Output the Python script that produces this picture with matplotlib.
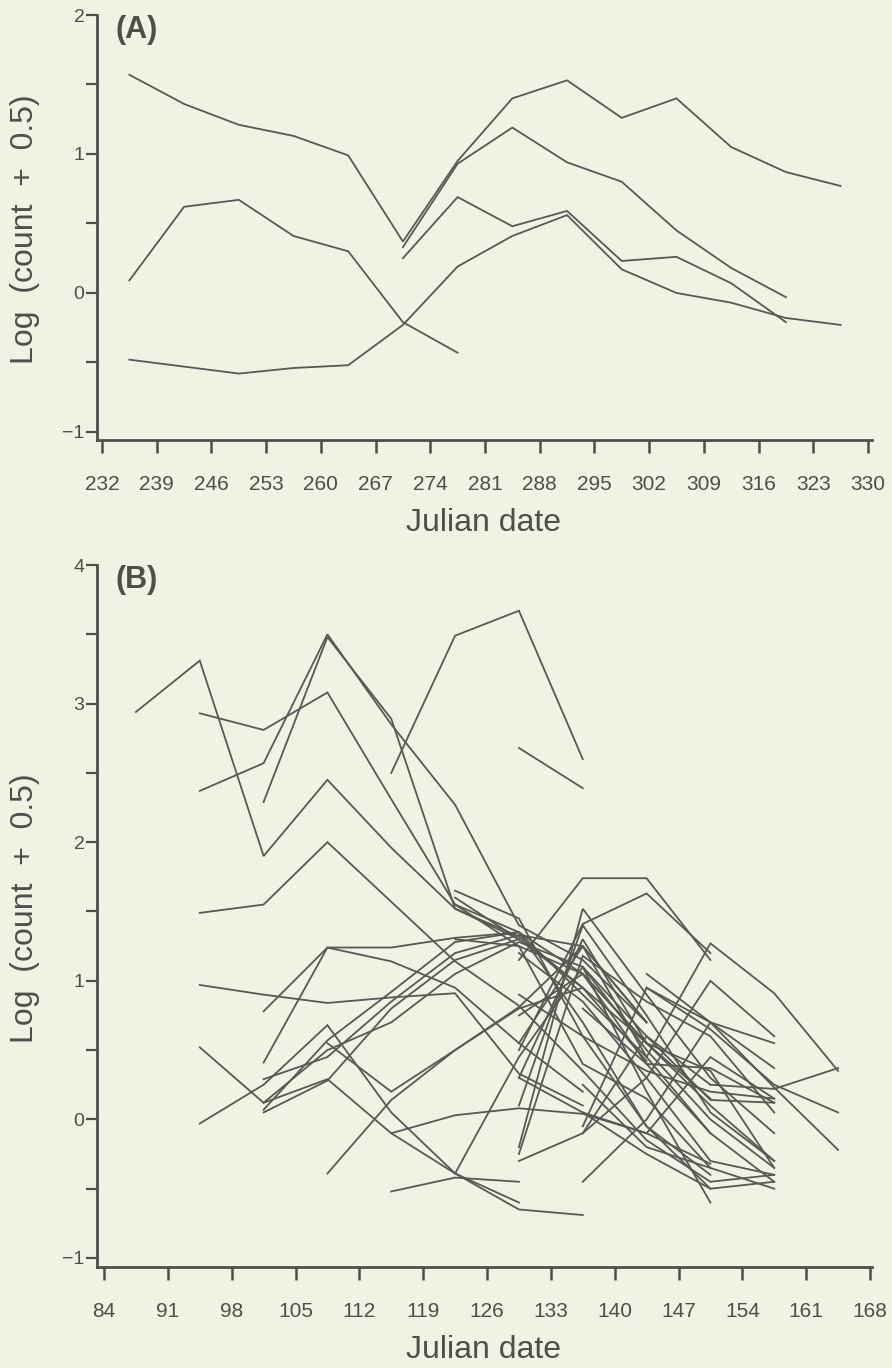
import matplotlib
matplotlib.use("Agg")
import matplotlib.pyplot as plt
import numpy as np

# sampling dates (Julian day) for each survey year
days_a = [235.5, 242.5, 249.5, 256.5, 263.5, 270.5, 277.5,
          284.5, 291.5, 298.5, 305.5, 312.5, 319.5, 326.5]
days_b = [87.5, 94.5, 101.5, 108.5, 115.5, 122.5,
          129.5, 136.5, 143.5, 150.5, 157.5, 164.5]

# log(count + 0.5) per site: (index of first sampling date, values)
sites_a = [
    (0, [1.57, 1.36, 1.21, 1.13, 0.99, 0.37, 0.95, 1.40, 1.53, 1.26, 1.40, 1.05, 0.87, 0.77]),
    (0, [0.09, 0.62, 0.67, 0.41, 0.30, -0.21, -0.43]),
    (0, [-0.48, -0.53, -0.58, -0.54, -0.52, -0.23, 0.19, 0.41, 0.56, 0.17, 0.00, -0.07, -0.18, -0.23]),
    (5, [0.33, 0.93, 1.19, 0.94, 0.80, 0.45, 0.18, -0.03]),
    (5, [0.25, 0.69, 0.48, 0.59, 0.23, 0.26, 0.07, -0.21]),
]

sites_b = [
    (0, [2.94, 3.31, 1.90, 2.45, 1.96, 1.52, 1.30]),
    (1, [2.93, 2.81, 3.08, 2.31, 1.55, 1.25, 1.05, 0.55]),
    (1, [2.37, 2.57, 3.50, 2.85, 2.27, 1.40, 1.15, 0.70]),
    (2, [2.29, 3.48, 2.89, 1.52, 1.32, 0.95, 0.42]),
    (1, [1.49, 1.55, 2.00, 1.57, 1.14, 0.82, 0.35]),
    (4, [2.50, 3.49, 3.67, 2.60]),
    (6, [2.68, 2.39]),
    (1, [0.97, 0.90, 0.84, 0.88, 0.91, 0.33, 0.10]),
    (1, [0.52, 0.12, 0.29, -0.10, -0.39, -0.65, -0.69]),
    (1, [-0.03, 0.25, 0.68, 0.05, -0.39, -0.60]),
    (2, [0.78, 1.24, 1.24, 1.31, 1.35, 0.90, 0.45]),
    (2, [0.41, 1.24, 1.14, 0.95, 0.55, 0.20]),
    (2, [0.29, 0.45, 0.85, 1.20, 1.33, 1.25, 0.70]),
    (2, [0.07, 0.57, 0.92, 1.28, 1.35, 1.05, 0.55, 0.15]),
    (2, [0.05, 0.28, 0.80, 1.15, 1.30]),
    (2, [0.12, 0.50, 0.70, 1.05, 1.28, 1.10, 0.60]),
    (3, [0.55, 0.20, 0.50, 0.80, 0.95]),
    (3, [-0.39, 0.14, 0.50, 0.81, 1.25, 0.70]),
    (4, [-0.10, 0.03, 0.08, 0.04, -0.10, -0.32]),
    (4, [-0.52, -0.42, -0.45]),
    (5, [-0.39, 0.45, 1.10, 0.50, 0.00, -0.35]),
    (6, [1.15, 1.74, 1.74, 1.15]),
    (6, [0.50, 1.41, 1.63, 1.20]),
    (8, [0.45, 1.27, 0.91, 0.35]),
    (9, [0.25, 0.22, 0.37]),
    (8, [1.05, 0.70, 0.23, -0.22]),
    (8, [0.95, 0.70, 0.37]),
    (8, [0.60, 0.14, 0.12]),
    (7, [0.80, 0.40, 0.37, 0.12]),
    (6, [-0.20, 1.52, 0.90, 0.30, -0.10]),
    (6, [0.10, 1.40, 0.75, 0.05, -0.30]),
    (6, [0.30, 1.30, 0.55, 0.35, -0.35]),
    (6, [-0.25, 1.18, 0.85, 0.60, 0.05]),
    (6, [0.55, 1.25, 0.45, -0.10, -0.45]),
    (5, [1.30, 1.25, 0.40, 0.15, -0.35]),
    (5, [1.55, 1.35, 0.70, -0.05, -0.40]),
    (5, [1.60, 1.30, 0.95, 0.55, 0.10, -0.30]),
    (5, [1.65, 1.45, 0.60, 0.35, 0.20, 0.15]),
    (6, [-0.30, -0.10, 0.30, 1.00, 0.60]),
    (7, [-0.10, 0.60, 0.25]),
    (7, [0.05, -0.10, 0.45, 0.15]),
    (7, [0.35, -0.15, -0.45, -0.40]),
    (7, [-0.05, 0.95, 0.65, 0.25, 0.05]),
    (6, [0.90, 0.60, -0.05, -0.50]),
    (7, [-0.45, 0.00, 0.70, 0.55]),
    (6, [0.30, 0.05, -0.25, -0.50, -0.45]),
    (7, [0.25, -0.20, -0.35, -0.50]),
    (6, [1.20, 0.85, 0.30, -0.30, -0.40]),
    (6, [0.75, 1.05, 0.40, -0.10]),
    (7, [1.10, 0.20, -0.60]),
]

xticks_a = [232, 239, 246, 253, 260, 267, 274, 281, 288, 295, 302, 309, 316, 323, 330]
xticks_b = [84, 91, 98, 105, 112, 119, 126, 133, 140, 147, 154, 161, 168]

bg = '#f2f2e4'
ink = '#4e4e4a'
plt.rcParams['font.family'] = ['Liberation Sans', 'DejaVu Sans']

W, H = 892, 1368
fig = plt.figure(figsize=(W / 100, H / 100), dpi=100, facecolor=bg)


def px_axes(left, top, right, bottom):
    return fig.add_axes([left / W, 1 - bottom / H, (right - left) / W, (bottom - top) / H])


def draw_panel(ax, days, sites, xticks, xlim, ylim, yticks, tag):
    ax.set_facecolor(bg)
    for start, vals in sites:
        x = days[start:start + len(vals)]
        ax.plot(x, vals, color='#585854', lw=1.3, solid_joinstyle='miter')
    ax.set_xlim(*xlim)
    ax.set_ylim(*ylim)
    for s in ('top', 'right'):
        ax.spines[s].set_visible(False)
    for s in ('left', 'bottom'):
        ax.spines[s].set_color(ink)
        ax.spines[s].set_linewidth(2.0)
    ax.set_xticks(xticks)
    ax.set_yticks(yticks)
    ax.set_yticks(np.arange(yticks[0] + 0.5, yticks[-1], 1.0), minor=True)
    ax.tick_params(axis='x', direction='out', length=9, width=1.8, color=ink,
                   labelsize=15, labelcolor=ink, pad=16)
    ax.tick_params(axis='y', which='both', direction='out', length=8, width=1.6,
                   color=ink, labelsize=14, labelcolor=ink, pad=1)
    ax.set_yticklabels(['\u22121' if t < 0 else str(t) for t in yticks])
    ax.text(0.024, 1.0, tag, transform=ax.transAxes, fontsize=22,
            fontweight='bold', color=ink, ha='left', va='top')


ax_a = px_axes(97, 15, 872, 440)
draw_panel(ax_a, days_a, sites_a, xticks_a, (231.36, 330.52), (-1.058, 2.0),
           [-1, 0, 1, 2], '(A)')

ax_b = px_axes(97, 565, 872, 1267)
draw_panel(ax_b, days_b, sites_b, xticks_b, (83.23, 168.22), (-1.065, 4.0),
           [-1, 0, 1, 2, 3, 4], '(B)')

label_kw = dict(fontsize=23, color=ink, ha='center', va='center')
fig.text(484 / W, 1 - 523 / H, 'Julian date', **label_kw)
fig.text(484 / W, 1 - 1350 / H, 'Julian date', **label_kw)
fig.text(25 / W, 1 - 229 / H, 'Log  (count  +  0.5)', rotation=90, **label_kw)
fig.text(25 / W, 1 - 908 / H, 'Log  (count  +  0.5)', rotation=90, **label_kw)

fig.savefig('out.png', dpi=100, facecolor=bg)
